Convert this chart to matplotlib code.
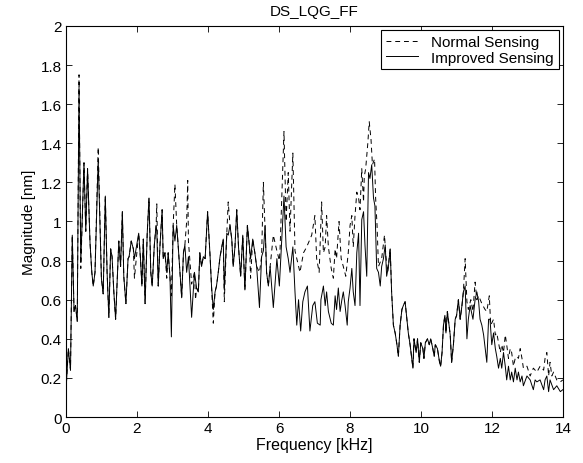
import matplotlib
matplotlib.use("Agg")
import matplotlib.pyplot as plt
import numpy as np

plt.rcParams['font.family'] = ['Liberation Sans', 'DejaVu Sans']

title = "DS_LQG_FF"
x_label = "Frequency [kHz]"
y_label = "Magnitude [nm]"
legend_labels = ["Normal Sensing", "Improved Sensing"]
x_ticks = [0, 2, 4, 6, 8, 10, 12, 14]
y_ticks = [0, 0.2, 0.4, 0.6, 0.8, 1, 1.2, 1.4, 1.6, 1.8, 2]
y_tick_labels = ["0", "0.2", "0.4", "0.6", "0.8", "1", "1.2", "1.4", "1.6", "1.8", "2"]

# ---------------- Improved Sensing (solid) ----------------
freq_improved = [
    0.00, 0.02, 0.07, 0.13, 0.18, 0.23, 0.27, 0.32, 0.37, 0.42,
    0.51, 0.56, 0.61, 0.68, 0.73, 0.77, 0.82, 0.91, 1.00, 1.05,
    1.11, 1.16, 1.21, 1.26, 1.30, 1.35, 1.40, 1.49, 1.54, 1.59,
    1.63, 1.69, 1.75, 1.78, 1.84, 1.90, 1.93, 2.05, 2.10, 2.14,
    2.18, 2.23, 2.29, 2.34,
    2.39, 2.43, 2.49, 2.54, 2.56, 2.60, 2.65, 2.71, 2.74, 2.79,
    2.84, 2.88, 2.93, 2.97, 3.02, 3.07, 3.12, 3.16, 3.26, 3.31,
    3.35, 3.40, 3.45, 3.54, 3.62, 3.68, 3.73, 3.77, 3.82, 3.87,
    3.92, 3.99, 4.06, 4.10, 4.15, 4.20, 4.24, 4.29, 4.34, 4.39,
    4.43, 4.46, 4.53, 4.57, 4.62, 4.67, 4.71, 4.76,
    4.81, 4.86, 4.92, 4.98, 5.04, 5.11, 5.17, 5.20, 5.26, 5.32,
    5.37, 5.45, 5.51, 5.56, 5.61, 5.65, 5.70, 5.75, 5.84, 5.94,
    6.01, 6.14, 6.20, 6.26, 6.31, 6.39, 6.45, 6.50, 6.55, 6.61,
    6.67, 6.73, 6.80, 6.87, 6.95, 7.01, 7.08, 7.16,
    7.18, 7.25, 7.30, 7.34, 7.39, 7.47, 7.53, 7.58, 7.62, 7.67,
    7.72, 7.77, 7.81, 7.86, 7.92, 7.95, 8.00, 8.05, 8.09, 8.14,
    8.19, 8.24, 8.28, 8.33, 8.38, 8.42, 8.47, 8.52, 8.56, 8.61,
    8.66, 8.70, 8.75, 8.80, 8.85, 8.89, 8.94, 8.99, 9.03, 9.08,
    9.13, 9.17, 9.22, 9.27, 9.32, 9.36, 9.41, 9.46,
    9.50, 9.55, 9.60, 9.64, 9.69, 9.77, 9.80, 9.86, 9.90, 9.95,
    9.99, 10.05, 10.08, 10.12, 10.18, 10.23, 10.27, 10.33, 10.37, 10.40,
    10.46, 10.52, 10.55, 10.59, 10.63, 10.67, 10.70, 10.74, 10.78, 10.82,
    10.86, 10.91, 10.96, 11.00, 11.05, 11.10, 11.15, 11.19,
    11.24, 11.29, 11.33, 11.38, 11.46, 11.52, 11.57, 11.62, 11.66, 11.71,
    11.76, 11.85, 11.90, 11.94, 11.99, 12.04, 12.09, 12.13, 12.18, 12.23,
    12.27, 12.32, 12.37, 12.41, 12.46, 12.51, 12.55, 12.60, 12.65, 12.70,
    12.74, 12.79, 12.84, 12.88, 12.98, 13.07, 13.16, 13.21, 13.26, 13.35,
    13.45, 13.49, 13.54, 13.59, 13.63, 13.73, 13.82, 13.92, 13.99,
]
mag_improved = [
    0.13, 0.19, 0.35, 0.24, 0.93, 0.54, 0.57, 0.49, 1.69, 0.79,
    1.30, 0.95, 1.27, 0.89, 0.74, 0.67, 0.74, 1.32, 0.71, 0.63,
    1.13, 0.74, 0.51, 0.86, 0.82, 0.64, 0.50, 0.90, 0.77, 1.05,
    0.72, 0.58, 0.81, 0.82, 0.90, 0.86, 0.81, 0.94, 0.81, 0.67,
    0.91, 0.58, 0.94, 1.12,
    0.74, 0.67, 0.88, 0.98, 0.95, 0.67, 0.88, 1.06, 0.81, 0.84,
    0.74, 0.84, 0.72, 0.41, 0.98, 0.90, 0.98, 0.88, 0.61, 0.84,
    0.88, 0.74, 0.82, 0.51, 0.74, 0.66, 0.64, 0.84, 0.77, 0.82,
    0.81, 1.05, 0.82, 0.67, 0.55, 0.64, 0.67, 0.74, 0.82, 0.87,
    0.91, 0.65, 0.94, 0.93, 0.98, 0.91, 0.77, 0.87,
    1.06, 0.87, 0.72, 0.93, 0.65, 0.98, 0.87, 0.81, 0.91, 0.84,
    0.77, 0.56, 0.82, 0.85, 0.98, 0.74, 0.67, 0.77, 0.56, 0.81,
    0.67, 1.13, 0.87, 0.81, 0.74, 0.87, 0.64, 0.47, 0.60, 0.44,
    0.59, 0.64, 0.67, 0.44, 0.57, 0.59, 0.48, 0.47,
    0.60, 0.67, 0.57, 0.64, 0.54, 0.48, 0.47, 0.62, 0.55, 0.66,
    0.54, 0.60, 0.64, 0.57, 0.47, 0.59, 0.66, 0.76, 0.64, 0.57,
    0.84, 0.94, 0.57, 1.01, 1.05, 0.88, 0.72, 1.25, 1.22, 1.29,
    1.12, 1.08, 0.76, 0.74, 0.67, 0.77, 0.81, 0.88, 0.72, 0.77,
    0.86, 0.64, 0.47, 0.43, 0.37, 0.31, 0.47, 0.55,
    0.57, 0.59, 0.50, 0.43, 0.37, 0.25, 0.40, 0.33, 0.40, 0.28,
    0.38, 0.35, 0.30, 0.38, 0.40, 0.37, 0.40, 0.35, 0.31, 0.37,
    0.35, 0.28, 0.26, 0.33, 0.47, 0.52, 0.43, 0.54, 0.48, 0.42,
    0.28, 0.37, 0.50, 0.52, 0.60, 0.50, 0.57, 0.64,
    0.67, 0.40, 0.50, 0.57, 0.50, 0.60, 0.64, 0.59, 0.50, 0.47,
    0.42, 0.28, 0.50, 0.50, 0.37, 0.43, 0.35, 0.31, 0.25, 0.30,
    0.25, 0.33, 0.26, 0.19, 0.26, 0.19, 0.23, 0.18, 0.25, 0.19,
    0.23, 0.18, 0.21, 0.16, 0.21, 0.19, 0.14, 0.19, 0.18, 0.19,
    0.14, 0.19, 0.21, 0.13, 0.19, 0.14, 0.16, 0.13, 0.14,
]

# ---------------- Normal Sensing (dashed) ----------------
freq_normal = [
    0.00, 0.02, 0.07, 0.13, 0.18, 0.23, 0.27, 0.32, 0.37, 0.42,
    0.51, 0.56, 0.61, 0.68, 0.73, 0.77, 0.82, 0.91, 1.00, 1.05,
    1.11, 1.16, 1.21, 1.26, 1.30, 1.35, 1.40, 1.49, 1.54, 1.59,
    1.63, 1.69, 1.75, 1.78, 1.84, 1.90, 1.93, 2.05, 2.10, 2.14,
    2.18, 2.23, 2.29, 2.34,
    2.39, 2.43, 2.49, 2.54, 2.56, 2.60, 2.65, 2.71, 2.74, 2.79,
    2.84, 2.88, 2.93, 2.97, 3.02, 3.07, 3.12, 3.16, 3.26, 3.31,
    3.35, 3.40, 3.43, 3.45, 3.54, 3.62, 3.65, 3.68, 3.73, 3.77,
    3.82, 3.87, 3.92, 3.99, 4.06, 4.10, 4.15, 4.20, 4.24, 4.29,
    4.34, 4.39, 4.43, 4.46, 4.53, 4.57, 4.62, 4.67, 4.71, 4.76,
    4.81, 4.86, 4.92, 4.98, 5.04, 5.11, 5.17, 5.20, 5.26, 5.32,
    5.37, 5.45, 5.51, 5.56, 5.61, 5.65, 5.70, 5.75, 5.84, 5.94,
    6.01, 6.03, 6.14, 6.20, 6.26, 6.31, 6.39, 6.45, 6.50, 6.59,
    6.69, 6.78, 6.92, 7.01, 7.06,
    7.13, 7.20, 7.25, 7.30, 7.34, 7.39, 7.47, 7.53, 7.58, 7.62,
    7.69, 7.75, 7.81, 7.88, 7.95, 8.00, 8.05, 8.09, 8.14, 8.19,
    8.24, 8.28, 8.33, 8.38, 8.40, 8.44, 8.50, 8.54, 8.59, 8.63,
    8.69, 8.72, 8.76, 8.80, 8.89, 8.97, 9.01, 9.06, 9.13,
    9.17, 9.22, 9.27, 9.32, 9.36, 9.41, 9.46,
    9.50, 9.55, 9.60, 9.64, 9.69, 9.77, 9.80, 9.86, 9.90, 9.95,
    9.99, 10.05, 10.08, 10.12, 10.18, 10.23, 10.27, 10.33, 10.37, 10.40,
    10.46, 10.52, 10.55, 10.59, 10.63, 10.67, 10.70, 10.74, 10.78, 10.82,
    10.86, 10.91, 10.96, 11.00, 11.05, 11.10, 11.15, 11.19,
    11.24, 11.29, 11.33, 11.40, 11.46, 11.52, 11.57, 11.62, 11.71, 11.80,
    11.85, 11.92, 11.96, 12.04, 12.09, 12.13, 12.18, 12.23, 12.27, 12.32,
    12.37, 12.41, 12.46, 12.51, 12.55, 12.60, 12.65, 12.70, 12.74, 12.79,
    12.84, 12.88, 12.98, 13.07, 13.16, 13.26, 13.35, 13.45, 13.49, 13.54,
    13.59, 13.63, 13.68, 13.73, 13.82, 13.92, 13.99,
]
mag_normal = [
    0.13, 0.19, 0.35, 0.24, 0.93, 0.54, 0.57, 0.49, 1.75, 0.76,
    1.30, 0.95, 1.27, 0.89, 0.74, 0.67, 0.74, 1.38, 0.71, 0.63,
    1.13, 0.74, 0.51, 0.86, 0.82, 0.64, 0.50, 0.90, 0.77, 1.05,
    0.72, 0.58, 0.81, 0.82, 0.90, 0.86, 0.71, 0.94, 0.81, 0.67,
    0.91, 0.58, 0.94, 1.12,
    0.74, 0.67, 0.88, 0.98, 1.09, 0.67, 0.88, 1.06, 0.81, 0.84,
    0.71, 0.84, 0.72, 0.62, 0.98, 1.19, 0.98, 0.88, 0.61, 0.84,
    0.88, 1.00, 1.21, 0.90, 0.68, 0.74, 0.60, 0.66, 0.64, 0.84,
    0.77, 0.82, 0.81, 1.05, 0.82, 0.67, 0.48, 0.64, 0.67, 0.74,
    0.82, 0.87, 0.91, 0.59, 0.94, 1.10, 0.98, 0.91, 0.77, 0.87,
    1.06, 0.87, 0.72, 0.93, 0.65, 0.98, 0.87, 0.71, 0.91, 0.84,
    0.77, 0.74, 0.82, 1.20, 0.95, 0.74, 0.67, 0.77, 0.93, 0.85,
    0.80, 0.86, 1.46, 1.00, 1.25, 0.95, 1.35, 0.85, 0.81, 0.74,
    0.84, 0.87, 0.93, 1.03, 0.81,
    0.74, 1.10, 0.84, 0.87, 1.03, 0.87, 0.76, 0.71, 0.86, 0.81,
    1.00, 0.81, 0.77, 0.72, 0.84, 0.98, 1.03, 0.87, 1.03, 1.15,
    1.12, 1.06, 1.27, 1.10, 1.23, 1.27, 1.40, 1.51, 1.42, 1.29,
    1.32, 1.12, 0.98, 0.77, 0.81, 0.93, 0.82, 0.74, 0.86,
    0.64, 0.47, 0.43, 0.37, 0.31, 0.47, 0.55,
    0.57, 0.59, 0.50, 0.43, 0.37, 0.25, 0.40, 0.33, 0.40, 0.28,
    0.38, 0.35, 0.30, 0.38, 0.40, 0.37, 0.40, 0.35, 0.31, 0.37,
    0.35, 0.28, 0.26, 0.33, 0.47, 0.52, 0.43, 0.54, 0.48, 0.42,
    0.28, 0.37, 0.50, 0.52, 0.60, 0.50, 0.57, 0.64,
    0.81, 0.59, 0.55, 0.60, 0.54, 0.69, 0.60, 0.62, 0.58, 0.55,
    0.54, 0.62, 0.47, 0.50, 0.42, 0.43, 0.38, 0.33, 0.37, 0.33,
    0.42, 0.37, 0.30, 0.35, 0.33, 0.26, 0.30, 0.31, 0.30, 0.35,
    0.30, 0.25, 0.26, 0.21, 0.25, 0.23, 0.26, 0.24, 0.30, 0.33,
    0.21, 0.28, 0.21, 0.23, 0.19, 0.18, 0.19,
]

fig = plt.figure(figsize=(5.83, 4.64), dpi=100)
ax = fig.add_axes([0.113, 0.099, 0.853, 0.843])

ax.plot(freq_normal, mag_normal, color='black', linewidth=0.7,
        linestyle=(0, (5, 4)), label=legend_labels[0])
ax.plot(freq_improved, mag_improved, color='black', linewidth=0.7,
        linestyle='-', label=legend_labels[1])

ax.set_xlim(0, 14)
ax.set_ylim(0, 2)
ax.set_xticks(x_ticks)
ax.set_xticklabels([str(t) for t in x_ticks])
ax.set_yticks(y_ticks)
ax.set_yticklabels(y_tick_labels)
ax.tick_params(direction='in', top=True, right=True, length=4, width=0.6,
               labelsize=11, pad=3)
for s in ax.spines.values():
    s.set_linewidth(0.8)

ax.set_xlabel(x_label, fontsize=11.5, labelpad=1)
ax.set_ylabel(y_label, fontsize=11, labelpad=3)
ax.set_title(title, fontsize=11, pad=8)

leg = ax.legend(loc='upper right', fontsize=11, frameon=True, fancybox=False,
                edgecolor='black', framealpha=1, borderpad=0.3,
                labelspacing=0.1, handlelength=2.1, handletextpad=0.9,
                borderaxespad=0.3)
leg.get_frame().set_linewidth(0.8)

fig.savefig("out.png", dpi=100)
